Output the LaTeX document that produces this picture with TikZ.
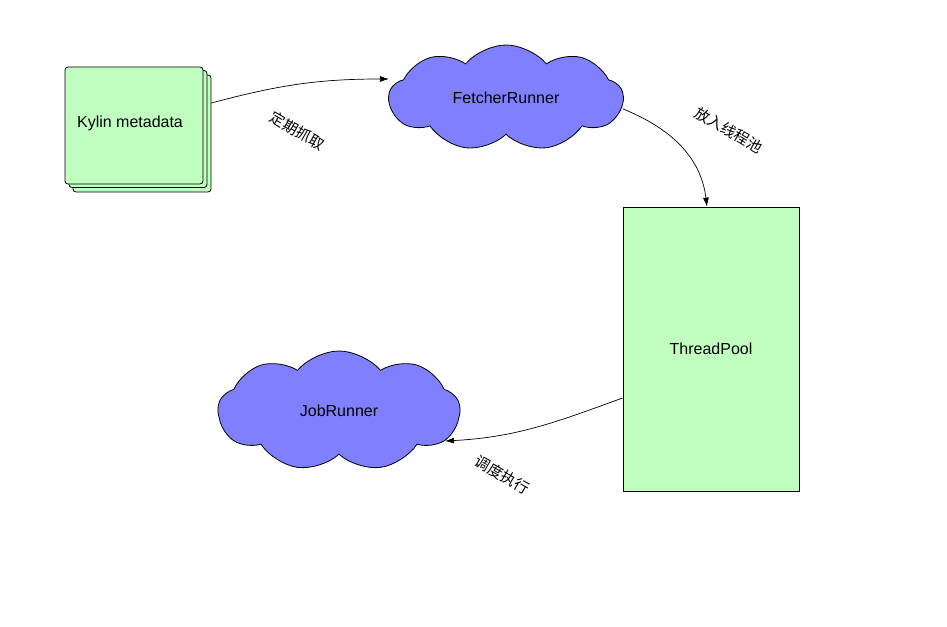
\documentclass[tikz,border=0pt]{standalone}
\usepackage{fontspec}
\setmainfont{Liberation Sans}
\newfontfamily\cjk{Noto Sans CJK SC}
\usetikzlibrary{shapes.symbols,arrows.meta}

\definecolor{boxgreen}{RGB}{192,255,192}
\definecolor{cloudblue}{RGB}{128,128,255}

\begin{document}
\begin{tikzpicture}[x=1pt,y=-1pt,
  font=\fontsize{16}{19}\selectfont,
  meta/.style={draw,fill=boxgreen,rounded corners=3pt,minimum width=138pt,minimum height=117pt,line width=0.8pt},
  runner/.style={cloud,cloud puffs=9,cloud puff arc=100,cloud ignores aspect,draw,fill=cloudblue,line width=0.8pt},
  flow/.style={-{Latex[length=9pt,width=6pt]},line width=0.7pt},
  note/.style={font=\cjk\fontsize{15}{18}\selectfont,rotate=-30}]
  \useasboundingbox (0,0) rectangle (947,626);
  % stacked metadata
  \node [meta] (meta3) at (142,133.5) {};
  \node [meta] (meta2) at (138,129) {};
  \node [meta] (meta) at (134,125.5) {};
  \node (metatext) at (130,123) {Kylin metadata};
  % runners
  \node [runner,minimum width=234pt,minimum height=106pt] (fetch) at (506,98) {FetcherRunner};
  \node [runner,minimum width=242pt,minimum height=120pt] (job) at (339,411) {JobRunner};
  % pool
  \node [draw,fill=boxgreen,minimum width=176pt,minimum height=284pt,line width=0.8pt] (pool) at (711,349) {ThreadPool};
  % labels
  \node [note] (fetchnote) at (297,131) {定期抓取};
  \node [note] (poolnote) at (729,130) {放入线程池};
  \node [note] (jobnote) at (502,475) {调度执行};
  % connectors
  \draw [flow] ([yshift=30.5pt]meta3.east) to[out=15,in=180] ([yshift=19pt,xshift=1pt]fetch.west);
  \draw [flow] ([yshift=-11pt,xshift=-1pt]fetch.east) to[out=-22,in=97] ([xshift=-4pt]pool.north);
  \draw [flow] ([yshift=-49pt]pool.west) to[out=200,in=3] (445,441);
\end{tikzpicture}
\end{document}
